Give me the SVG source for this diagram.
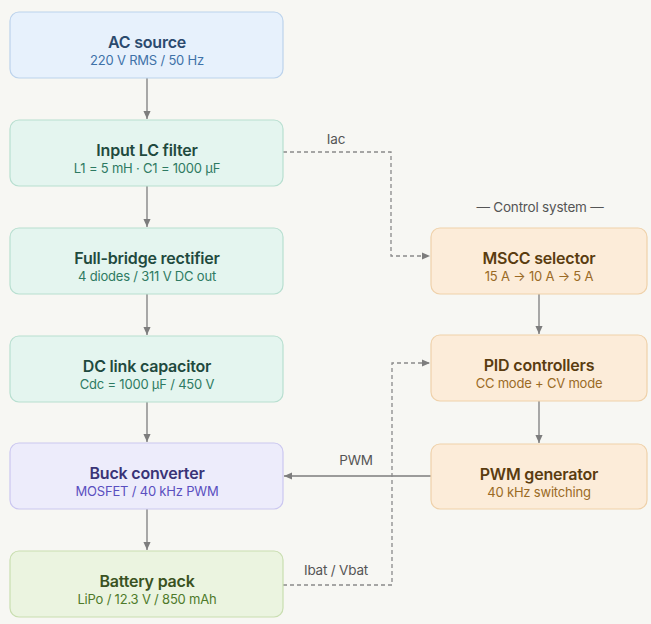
<svg xmlns="http://www.w3.org/2000/svg" width="651" height="624" viewBox="0 0 651 624">
<defs>
<style>
.t{font-family:Inter,"Noto Sans","Liberation Sans",sans-serif;font-size:16px;font-weight:600;text-anchor:middle;letter-spacing:-0.2px}
.s{font-family:Inter,"Noto Sans","Liberation Sans",sans-serif;font-size:13px;text-anchor:middle;letter-spacing:-0.2px}
.l{font-family:Inter,"Noto Sans","Liberation Sans",sans-serif;font-size:13.5px;fill:#555;text-anchor:middle;letter-spacing:-0.2px}
.blue rect{fill:#e7f1fc;stroke:#bcd3ec}
.blue .t{fill:#2b4a6e}.blue .s{fill:#3f72a8}
.mint rect{fill:#e4f5ef;stroke:#b8dfd0}
.mint .t{fill:#1f4a3e}.mint .s{fill:#2e7a62}
.lav rect{fill:#edecfb;stroke:#cbc7f0}
.lav .t{fill:#3a3477}.lav .s{fill:#5a4fc0}
.grn rect{fill:#ebf4e0;stroke:#c9deb0}
.grn .t{fill:#3a5222}.grn .s{fill:#4e7a2a}
.pch rect{fill:#fcecd9;stroke:#efd1aa}
.pch .t{fill:#5a3c10}.pch .s{fill:#9a6a25}
rect{stroke-width:1.2}
.c{fill:none;stroke:#7d7d7d;stroke-width:1.3}
.d{fill:none;stroke:#8a8a8a;stroke-width:1.3;stroke-dasharray:4 3}
</style>
<marker id="a" viewBox="0 0 10 10" refX="9" refY="5" markerWidth="7" markerHeight="7" orient="auto-start-reverse">
<path d="M0,1 L9,5 L0,9 Z" fill="#7d7d7d"/>
</marker>
</defs>
<rect width="651" height="624" fill="#f7f7f3"/>
<g id="connectors">
<line class="c" x1="147" y1="78" x2="147" y2="119" marker-end="url(#a)"/>
<line class="c" x1="147" y1="186" x2="147" y2="227" marker-end="url(#a)"/>
<line class="c" x1="147" y1="294" x2="147" y2="335" marker-end="url(#a)"/>
<line class="c" x1="147" y1="402" x2="147" y2="442" marker-end="url(#a)"/>
<line class="c" x1="147" y1="509" x2="147" y2="550" marker-end="url(#a)"/>
<line class="c" x1="539" y1="294" x2="539" y2="334" marker-end="url(#a)"/>
<line class="c" x1="539" y1="401" x2="539" y2="443" marker-end="url(#a)"/>
<line class="c" x1="431" y1="476" x2="284" y2="476" marker-end="url(#a)"/>
<polyline class="d" points="283,152 391,152 391,256 430,256" marker-end="url(#a)"/>
<polyline class="d" points="283,585 392,585 392,363 430,363" marker-end="url(#a)"/>
<text class="l" x="336" y="144">Iac</text>
<text class="l" x="356" y="465">PWM</text>
<text class="l" x="336" y="575">Ibat / Vbat</text>
<text class="l" x="540" y="212">— Control system —</text>
</g>
<g id="ac" class="blue"><rect x="10" y="12" width="273" height="66" rx="9"/><text class="t" x="147" y="48">AC source</text><text class="s" x="147" y="65">220 V RMS / 50 Hz</text></g>
<g id="lc" class="mint"><rect x="10" y="120" width="273" height="66" rx="9"/><text class="t" x="147" y="156">Input LC filter</text><text class="s" x="147" y="173">L1 = 5 mH · C1 = 1000 µF</text></g>
<g id="rect" class="mint"><rect x="10" y="228" width="273" height="66" rx="9"/><text class="t" x="147" y="264">Full-bridge rectifier</text><text class="s" x="147" y="281">4 diodes / 311 V DC out</text></g>
<g id="dc" class="mint"><rect x="10" y="336" width="273" height="66" rx="9"/><text class="t" x="147" y="372">DC link capacitor</text><text class="s" x="147" y="389">Cdc = 1000 µF / 450 V</text></g>
<g id="buck" class="lav"><rect x="10" y="443" width="273" height="66" rx="9"/><text class="t" x="147" y="479">Buck converter</text><text class="s" x="147" y="496">MOSFET / 40 kHz PWM</text></g>
<g id="bat" class="grn"><rect x="10" y="551" width="273" height="66" rx="9"/><text class="t" x="147" y="587">Battery pack</text><text class="s" x="147" y="604">LiPo / 12.3 V / 850 mAh</text></g>
<g id="mscc" class="pch"><rect x="431" y="228" width="216" height="66" rx="9"/><text class="t" x="539" y="264">MSCC selector</text><text class="s" x="539" y="281">15 A → 10 A → 5 A</text></g>
<g id="pid" class="pch"><rect x="431" y="335" width="216" height="66" rx="9"/><text class="t" x="539" y="371">PID controllers</text><text class="s" x="539" y="388">CC mode + CV mode</text></g>
<g id="pwm" class="pch"><rect x="431" y="444" width="216" height="65" rx="9"/><text class="t" x="539" y="480">PWM generator</text><text class="s" x="539" y="497">40 kHz switching</text></g>
</svg>
